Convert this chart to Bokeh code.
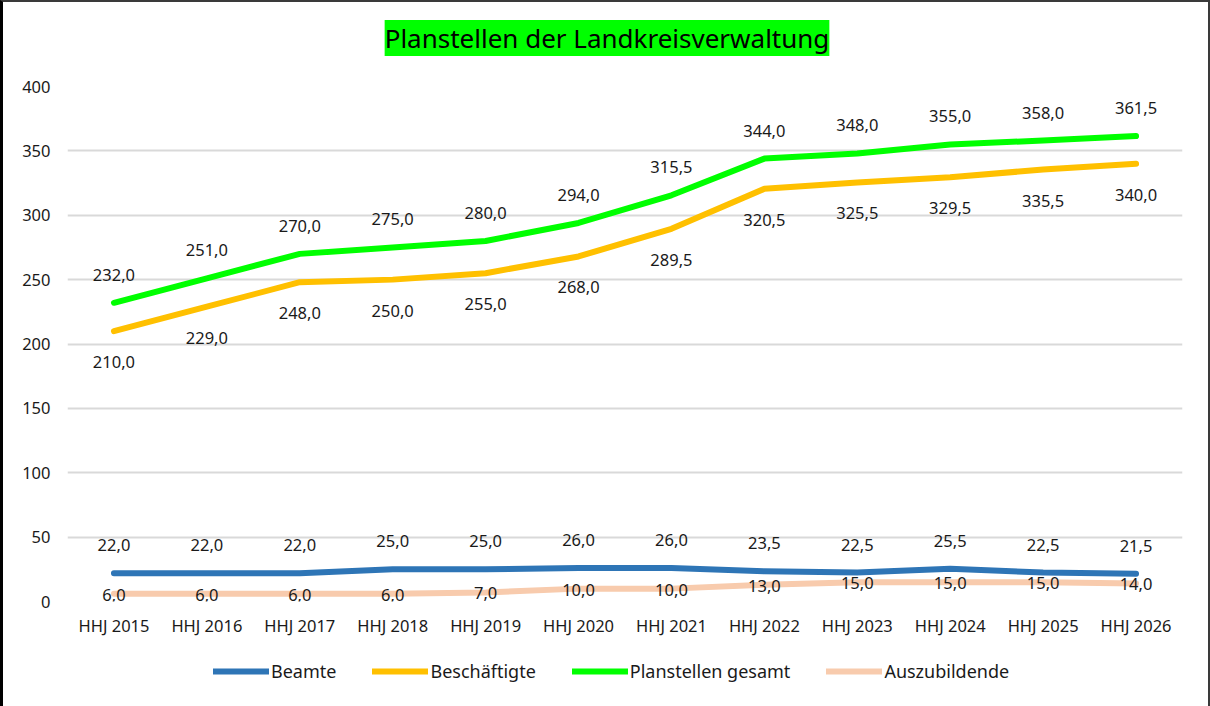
from bokeh.plotting import figure
from bokeh.layouts import column
from bokeh.models import (FactorRange, Range1d, FixedTicker, Legend, LegendItem,
                          ColumnDataSource, Label)
from bokeh.core.properties import value
from bokeh.embed import file_html
from bokeh.resources import INLINE

categories = ["HHJ 2015", "HHJ 2016", "HHJ 2017", "HHJ 2018", "HHJ 2019", "HHJ 2020",
              "HHJ 2021", "HHJ 2022", "HHJ 2023", "HHJ 2024", "HHJ 2025", "HHJ 2026"]
beamte = [22, 22, 22, 25, 25, 26, 26, 23.5, 22.5, 25.5, 22.5, 21.5]
beschaeftigte = [210, 229, 248, 250, 255, 268, 289.5, 320.5, 325.5, 329.5, 335.5, 340]
planstellen = [232, 251, 270, 275, 280, 294, 315.5, 344, 348, 355, 358, 361.5]
azubis = [6, 6, 6, 6, 7, 10, 10, 13, 15, 15, 15, 14]
y_ticks = [0, 50, 100, 150, 200, 250, 300, 350, 400]
TITLE = "Planstellen der Landkreisverwaltung"

FONT = "Noto Sans"
TXT = "#1a1a1a"
FS = "16.5px"

def fmt(v):
    return f"{v:.1f}".replace(".", ",")

# title strip
p0 = figure(width=1205, height=64, output_backend="svg", toolbar_location=None,
            x_range=Range1d(0, 1), y_range=Range1d(0, 1),
            x_axis_location=None, y_axis_location=None,
            min_border_left=0, min_border_right=0, min_border_top=0, min_border_bottom=0)
p0.outline_line_color = None
p0.grid.visible = False
p0.add_layout(Label(x=539.5, y=28.5, x_units="screen", y_units="screen", text=TITLE,
                    text_align="center", text_baseline="middle", text_font=FONT,
                    text_font_size="26px", text_color="#000000",
                    background_fill_color="#00FF00", padding=0))

p = figure(x_range=FactorRange(*categories, range_padding=0), y_range=Range1d(0, 400),
           width=1205, height=580, output_backend="svg", toolbar_location=None,
           min_border_left=64, min_border_right=26, min_border_top=20, min_border_bottom=45)
p.outline_line_color = None

p.xgrid.grid_line_color = None
p.ygrid.grid_line_color = "#d9d9d9"
p.ygrid.grid_line_width = 2
p.yaxis.ticker = FixedTicker(ticks=y_ticks)

for ax in (p.xaxis, p.yaxis):
    ax.axis_line_color = None
    ax.major_tick_line_color = None
    ax.minor_tick_line_color = None
    ax.major_tick_out = 0
    ax.major_label_text_font = FONT
    ax.major_label_text_font_size = FS
    ax.major_label_text_color = TXT
p.yaxis.major_label_standoff = 17
p.xaxis.major_label_standoff = 12

series = [
    ("Beamte", beamte, "#2E75B6", -28),
    ("Beschäftigte", beschaeftigte, "#FFC000", 31),
    ("Planstellen gesamt", planstellen, "#00FF00", -28),
    ("Auszubildende", azubis, "#F8CBAD", 1),
]

for name, vals, color, off in series:
    p.line(categories, vals, line_color=color, line_width=6,
           line_join="round", line_cap="round")

for name, vals, color, off in series:
    src = ColumnDataSource(dict(x=categories, y=vals, t=[fmt(v) for v in vals]))
    p.text(x="x", y="y", text="t", source=src, y_offset=off,
           text_align="center", text_baseline="middle",
           text_font=value(FONT), text_font_size=FS, text_color=TXT)

# legend strip below the chart (its lines use the series values, far outside
# this strip's visible range, so only the legend swatches show)
p2 = figure(width=1205, height=60, output_backend="svg", toolbar_location=None,
            x_range=Range1d(0, 1), y_range=Range1d(0, 1),
            x_axis_location=None, y_axis_location=None,
            min_border_left=0, min_border_right=0, min_border_top=0, min_border_bottom=0)
p2.outline_line_color = None
p2.grid.visible = False
items = []
for name, vals, color, off in series:
    r = p2.line(x=list(range(100, 100 + len(vals))), y=vals, line_color=color,
                line_width=6, line_cap="round")
    items.append(LegendItem(label=name, renderers=[r]))

legend = Legend(items=items, orientation="horizontal", location=(146, 23),
                glyph_width=56, glyph_height=20, label_standoff=2, spacing=36,
                padding=0, margin=0, border_line_color=None, background_fill_alpha=0,
                label_text_font=FONT, label_text_font_size="18px", label_text_color=TXT)
p2.add_layout(legend, "center")

layout = column(p0, p, p2, spacing=0)
layout.styles = {"border-left": "3px solid #000000", "border-top": "2px solid #3a3a3a",
                 "border-right": "2px solid #3a3a3a"}

open("out.html", "w").write(file_html(layout, INLINE))
